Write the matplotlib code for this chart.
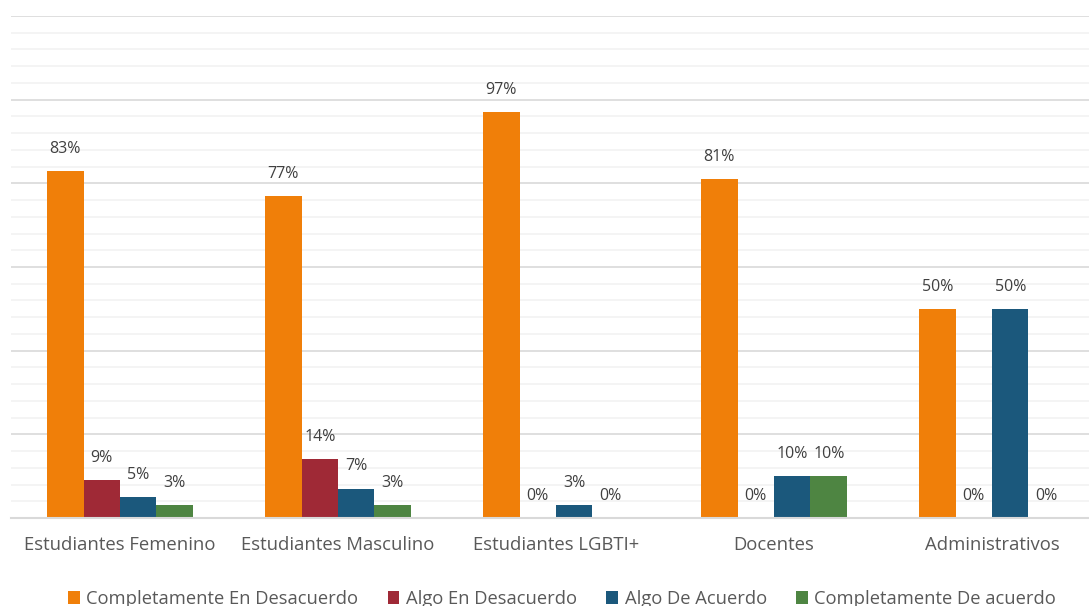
import numpy as np
import matplotlib.pyplot as plt
from matplotlib.ticker import MultipleLocator

plt.rcParams['font.family'] = ['Open Sans', 'DejaVu Sans']

categorias = ['Estudiantes Femenino', 'Estudiantes Masculino', 'Estudiantes LGBTI+',
              'Docentes', 'Administrativos']
series = ['Completamente En Desacuerdo', 'Algo En Desacuerdo', 'Algo De Acuerdo',
          'Completamente De acuerdo']
comp_desacuerdo = [83, 77, 97, 81, 50]
algo_desacuerdo = [9, 14, 0, 0, 0]
algo_acuerdo = [5, 7, 3, 10, 50]
comp_acuerdo = [3, 3, 0, 10, 0]

valores = [comp_desacuerdo, algo_desacuerdo, algo_acuerdo, comp_acuerdo]
colores = ['#F07F09', '#9F2936', '#1B587C', '#4E8542']

fig = plt.figure(figsize=(10.89, 6.06), dpi=100)
ax = fig.add_axes([11/1089, 1 - 518/606, 1090/1089, (518 - 16)/606])

x = np.arange(len(categorias))
w = 0.1674
for k, (vals, col, nom) in enumerate(zip(valores, colores, series)):
    pos = x + (k - 1.5) * w
    ax.bar(pos, vals, width=w, color=col, label=nom, zorder=3)
    for p, v in zip(pos, vals):
        ax.annotate(f'{v}%', (p, v), xytext=(0, 16), textcoords='offset points',
                    ha='center', va='center', fontsize=11.5, color='#404040')

ax.set_xlim(-0.5, 4.5)
ax.set_ylim(0, 120)
ax.yaxis.set_major_locator(MultipleLocator(20))
ax.yaxis.set_minor_locator(MultipleLocator(4))
ax.grid(axis='y', which='major', color='#D9D9D9', lw=1.2, zorder=0)
ax.grid(axis='y', which='minor', color='#F2F2F2', lw=1.2, zorder=0)
ax.tick_params(axis='y', which='both', left=False, labelleft=False)
ax.tick_params(axis='x', length=0, pad=13, labelsize=13.3, labelcolor='#595959')
ax.set_xticks(x)
ax.set_xticklabels(categorias)
for s in ['top', 'right', 'left']:
    ax.spines[s].set_visible(False)
ax.spines['bottom'].set_color('#D9D9D9')
ax.spines['bottom'].set_linewidth(1.5)
ax.spines['bottom'].set_zorder(4)

fig.legend(loc='center', bbox_to_anchor=(562/1089, 7/606), ncol=4, frameon=False,
           fontsize=13.2, handlelength=0.65, handleheight=0.65, handletextpad=0.35,
           columnspacing=1.6, labelcolor='#595959', borderpad=0)

fig.savefig('out.png', dpi=100)
